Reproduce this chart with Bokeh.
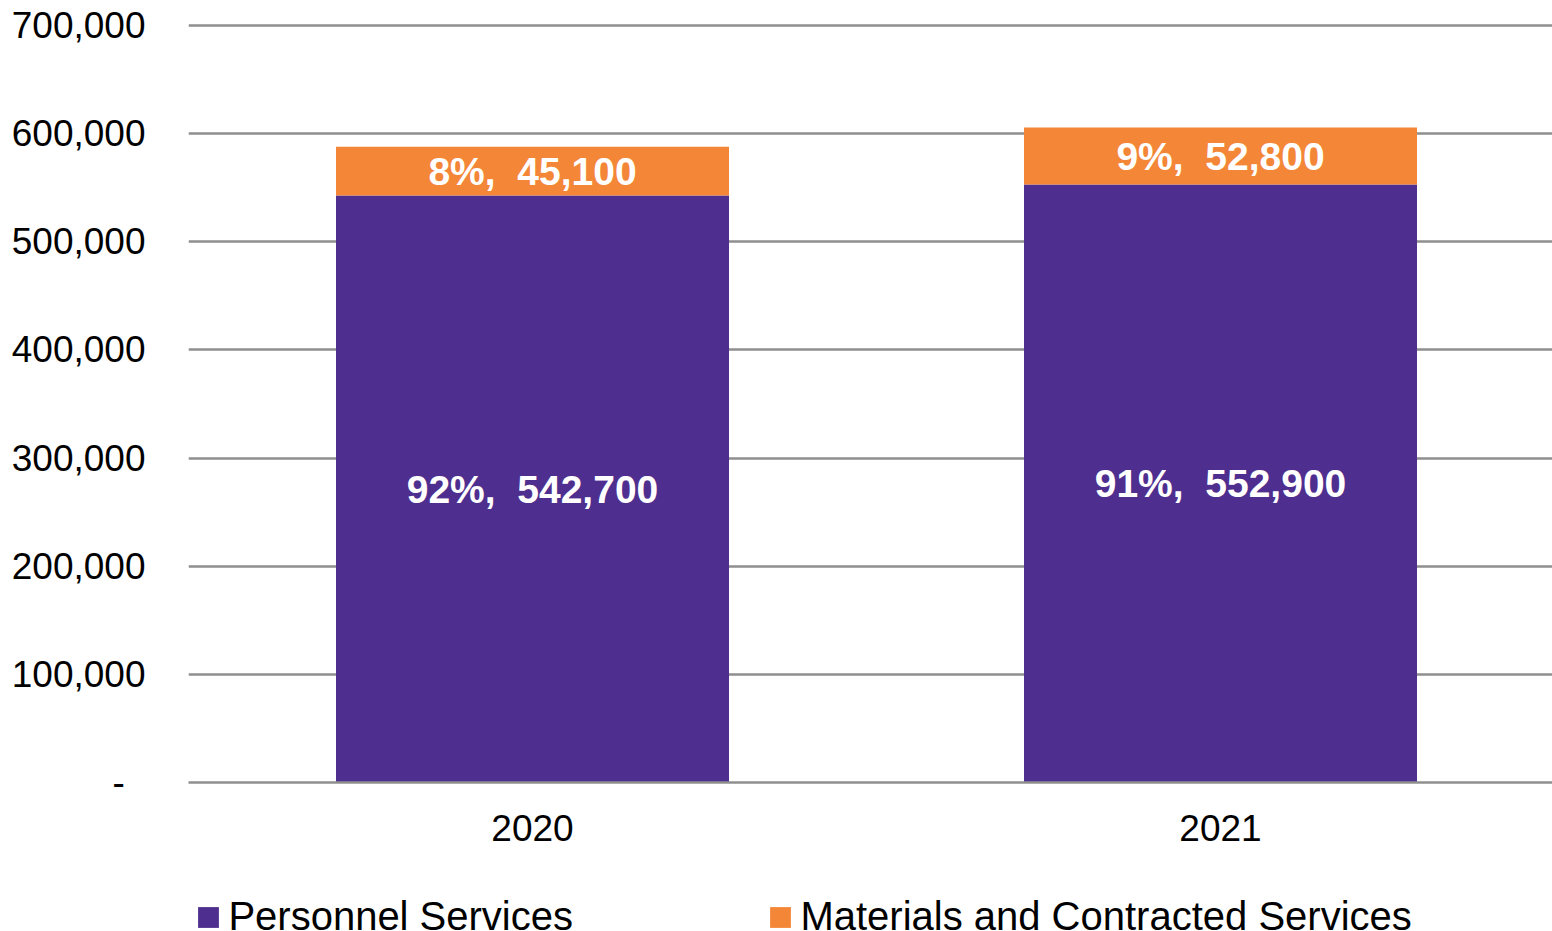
from bokeh.plotting import figure
from bokeh.layouts import column
from bokeh.models import Range1d, FixedTicker, Legend, LegendItem, ColumnDataSource
from bokeh.embed import file_html
from bokeh.resources import INLINE
from bokeh.core.properties import value

# ---- data ----
years = ["2020", "2021"]
personnel = [542700, 552900]
materials = [45100, 52800]
series_names = ["Personnel Services", "Materials and Contracted Services"]
y_ticks = [0, 100000, 200000, 300000, 400000, 500000, 600000, 700000]
y_tick_labels = ["-\u00a0\u00a0", "100,000", "200,000", "300,000", "400,000",
                 "500,000", "600,000", "700,000"]

PURPLE = "#4E2E8E"
ORANGE = "#F48638"
GRID = "#8f8f8f"
FONT = "Liberation Sans"

xs = [i + 0.5 for i in range(len(years))]
totals = [a + b for a, b in zip(personnel, materials)]
pct_p = [round(100 * a / t) for a, t in zip(personnel, totals)]
pct_m = [round(100 * b / t) for b, t in zip(materials, totals)]

src = ColumnDataSource(dict(
    x=xs, personnel=personnel, totals=totals,
    mid_p=[a / 2 for a in personnel],
    mid_m=[a + b / 2 for a, b in zip(personnel, materials)],
    lab_p=[f"{p_}%,\u00a0 {v:,}" for p_, v in zip(pct_p, personnel)],
    lab_m=[f"{p_}%,\u00a0 {v:,}" for p_, v in zip(pct_m, materials)],
))

# frame: 0 -> y=782, 700,000 -> y=25 ; small headroom so the top gridline shows
LEFT = 188
px_per_unit = 757 / 700000
head_px = 3
p = figure(width=1552, height=880, output_backend="svg", toolbar_location=None,
           x_range=Range1d(0, 1364 / 688),
           y_range=Range1d(0, 700000 + head_px / px_per_unit),
           min_border_left=LEFT, min_border_right=0, min_border_top=25 - head_px,
           min_border_bottom=98)
p.outline_line_color = None
p.background_fill_color = "white"
p.border_fill_color = "white"

bar_w = 393 / 688
r1 = p.vbar(x="x", bottom=0, top="personnel", width=bar_w, source=src,
            fill_color=PURPLE, line_color=None)
r2 = p.vbar(x="x", bottom="personnel", top="totals", width=bar_w, source=src,
            fill_color=ORANGE, line_color=None)

for ycol, tcol in (("mid_p", "lab_p"), ("mid_m", "lab_m")):
    p.text(x="x", y=ycol, text=tcol, source=src, text_align="center",
           text_baseline="middle", text_color="white",
           text_font=value(FONT), text_font_style="bold", text_font_size="39px")

# grid
p.xgrid.visible = False
p.ygrid.ticker = FixedTicker(ticks=y_ticks)
p.ygrid.grid_line_color = GRID
p.ygrid.grid_line_width = 2.5

# y axis
p.yaxis.ticker = FixedTicker(ticks=y_ticks)
p.yaxis.major_label_overrides = {t: l for t, l in zip(y_ticks, y_tick_labels)}
p.yaxis.axis_line_color = None
p.yaxis.major_tick_line_color = None
p.yaxis.minor_tick_line_color = None
p.yaxis.major_tick_out = 0
p.yaxis.major_tick_in = 0
p.yaxis.major_label_standoff = 43
p.yaxis.major_label_text_font = FONT
p.yaxis.major_label_text_font_size = "37px"
p.yaxis.major_label_text_color = "#000000"

# x axis
p.xaxis.ticker = FixedTicker(ticks=xs)
p.xaxis.major_label_overrides = {x: y for x, y in zip(xs, years)}
p.xaxis.axis_line_color = GRID
p.xaxis.axis_line_width = 2.5
p.xaxis.major_tick_line_color = None
p.xaxis.minor_tick_line_color = None
p.xaxis.major_tick_out = 0
p.xaxis.major_tick_in = 0
p.xaxis.major_label_standoff = 32
p.xaxis.major_label_text_font = FONT
p.xaxis.major_label_text_font_size = "37px"
p.xaxis.major_label_text_color = "#000000"

# legend strip below the chart (its frame is aligned with the chart frame)
lf = figure(width=1552, height=51, output_backend="svg", toolbar_location=None,
            x_range=Range1d(0, 1552), y_range=Range1d(0, 51),
            x_axis_location=None, y_axis_location=None,
            min_border_left=0, min_border_right=0, min_border_top=0,
            min_border_bottom=0)
lf.grid.visible = False
lf.outline_line_color = None
zero = [0] * len(xs)
lr1 = lf.vbar(x=xs, bottom=zero, top=zero, width=1, fill_color=PURPLE, line_color=None)
lr2 = lf.vbar(x=xs, bottom=zero, top=zero, width=1, fill_color=ORANGE, line_color=None)

for name, rend, lx in ((series_names[0], lr1, 198 - 2.6 - LEFT),
                       (series_names[1], lr2, 770 - 2.6 - LEFT)):
    leg = Legend(items=[LegendItem(label=name, renderers=[rend], index=0)],
                 location=(lx, -8), orientation="horizontal",
                 padding=0, margin=0, spacing=0, border_line_color=None,
                 background_fill_alpha=0, glyph_width=26, glyph_height=26,
                 label_standoff=7, label_text_font=FONT,
                 label_text_font_size="40px", label_text_color="#000000")
    lf.add_layout(leg)

layout = column(p, lf, spacing=0)
open("out.html", "w").write(file_html(layout, INLINE))
